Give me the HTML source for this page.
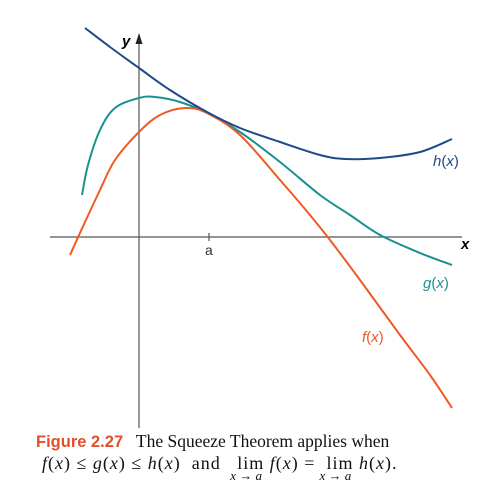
<!DOCTYPE html>
<html><head><meta charset="utf-8"><style>
body{margin:0;background:#fff;width:498px;height:501px;overflow:hidden;position:relative}
svg{position:absolute;left:0;top:0}
.cap{position:absolute;font-family:"Liberation Serif",serif;font-size:17.5px;color:#111;white-space:nowrap}
.fig{font-family:"Liberation Sans",sans-serif;font-weight:bold;color:#e0502a;font-size:16.5px}
.lim{display:inline-block;position:relative;text-align:center}
.lim sub{position:absolute;left:-7px;top:15px;font-size:13px;font-style:italic;white-space:nowrap;letter-spacing:0}
</style></head><body>
<svg width="498" height="501">
<g id="axes"></g><g id="curves"></g>
<text x="122" y="46" font-family="Liberation Sans" font-style="italic" font-weight="bold" font-size="15">y</text>
<text x="461" y="249" font-family="Liberation Sans" font-style="italic" font-weight="bold" font-size="15">x</text>
<text x="205" y="255" font-family="Liberation Sans" font-size="14" fill="#333">a</text>
<text x="433" y="166" font-family="Liberation Sans" font-size="15" fill="#1f4a8a"><tspan font-style="italic">h</tspan>(<tspan font-style="italic">x</tspan>)</text>
<text x="423" y="288" font-family="Liberation Sans" font-size="15" fill="#1a9090"><tspan font-style="italic">g</tspan>(<tspan font-style="italic">x</tspan>)</text>
<text x="362" y="342" font-family="Liberation Sans" font-size="15" fill="#ee5a24"><tspan font-style="italic">f</tspan>(<tspan font-style="italic">x</tspan>)</text>
</svg>
<div class="cap" style="left:36px;top:431px"><span class="fig">Figure 2.27</span>&nbsp;&nbsp; The Squeeze Theorem applies when</div>
<div class="cap" style="left:42px;top:453px;font-size:18px;letter-spacing:1px"><i>f</i>(<i>x</i>)&nbsp;≤&nbsp;<i>g</i>(<i>x</i>)&nbsp;≤&nbsp;<i>h</i>(<i>x</i>)&nbsp;&nbsp;and&nbsp;&nbsp;&nbsp;<span class="lim">lim<sub>x → a</sub></span>&nbsp;<i>f</i>(<i>x</i>)&nbsp;=&nbsp;&nbsp;<span class="lim">lim<sub>x → a</sub></span>&nbsp;<i>h</i>(<i>x</i>).</div>
<script>
const hX=[-5.4,-2.9,0,3.1,6.8,10.1,14.1,18.1,20.6,24.1,28.1,31.3];
const hY=[20.9,19,16.9,14.7,12.5,10.9,9.5,8.2,7.8,7.9,8.5,9.8];
const gX=[-5.7,-5.1,-3.9,-2.4,0,1.6,4.1,6.8,10.1,14.1,18.1,21.1,24.1,28.1,31.3];
const gY=[4.2,7.2,10.7,12.9,13.9,14,13.5,12.4,10.5,7.5,4.2,2.2,0.2,-1.6,-2.8];
const fX=[-6.9,-5.4,-3.9,-2.4,0,2.1,4.6,6.8,10.1,14.1,17.1,19.1,22.1,26.1,29.1,31.3];
const fY=[-1.8,1.5,4.7,7.7,10.5,12.2,12.9,12.4,10.2,5.7,2.2,-0.3,-4.3,-9.8,-13.8,-17.1];
const aVal=7;
const sx=v=>139+v*10, sy=v=>237-v*10;
const NS="http://www.w3.org/2000/svg";
function mk(t,at,p){const e=document.createElementNS(NS,t);for(const k in at)e.setAttribute(k,at[k]);p.appendChild(e);return e;}
const ax=document.getElementById('axes');
let e=mk('line',{x1:50,y1:237,x2:462,y2:237,stroke:'#555','stroke-width':1.2},ax);

e=mk('line',{x1:139,y1:38,x2:139,y2:428,stroke:'#555','stroke-width':1.2},ax);

e=mk('polygon',{points:'139,33 135.5,44 142.5,44',fill:'#222'},ax);

e=mk('line',{x1:sx(aVal),y1:233,x2:sx(aVal),y2:241,stroke:'#555','stroke-width':1.2},ax);

function path(X,Y){const P=X.map((x,i)=>[sx(x),sy(Y[i])]);let d='M'+P[0].join(',');
for(let i=0;i<P.length-1;i++){const p0=P[i-1]||P[i],p1=P[i],p2=P[i+1],p3=P[i+2]||p2;
d+=` C${p1[0]+(p2[0]-p0[0])/6},${p1[1]+(p2[1]-p0[1])/6} ${p2[0]-(p3[0]-p1[0])/6},${p2[1]-(p3[1]-p1[1])/6} ${p2[0]},${p2[1]}`;}return d;}
const cv=document.getElementById('curves');
e=mk('path',{d:path(gX,gY),fill:'none',stroke:'#1a9090','stroke-width':2},cv);

e=mk('path',{d:path(fX,fY),fill:'none',stroke:'#ee5a24','stroke-width':2},cv);

e=mk('path',{d:path(hX,hY),fill:'none',stroke:'#1f4a8a','stroke-width':2},cv);

</script>
</body></html>
